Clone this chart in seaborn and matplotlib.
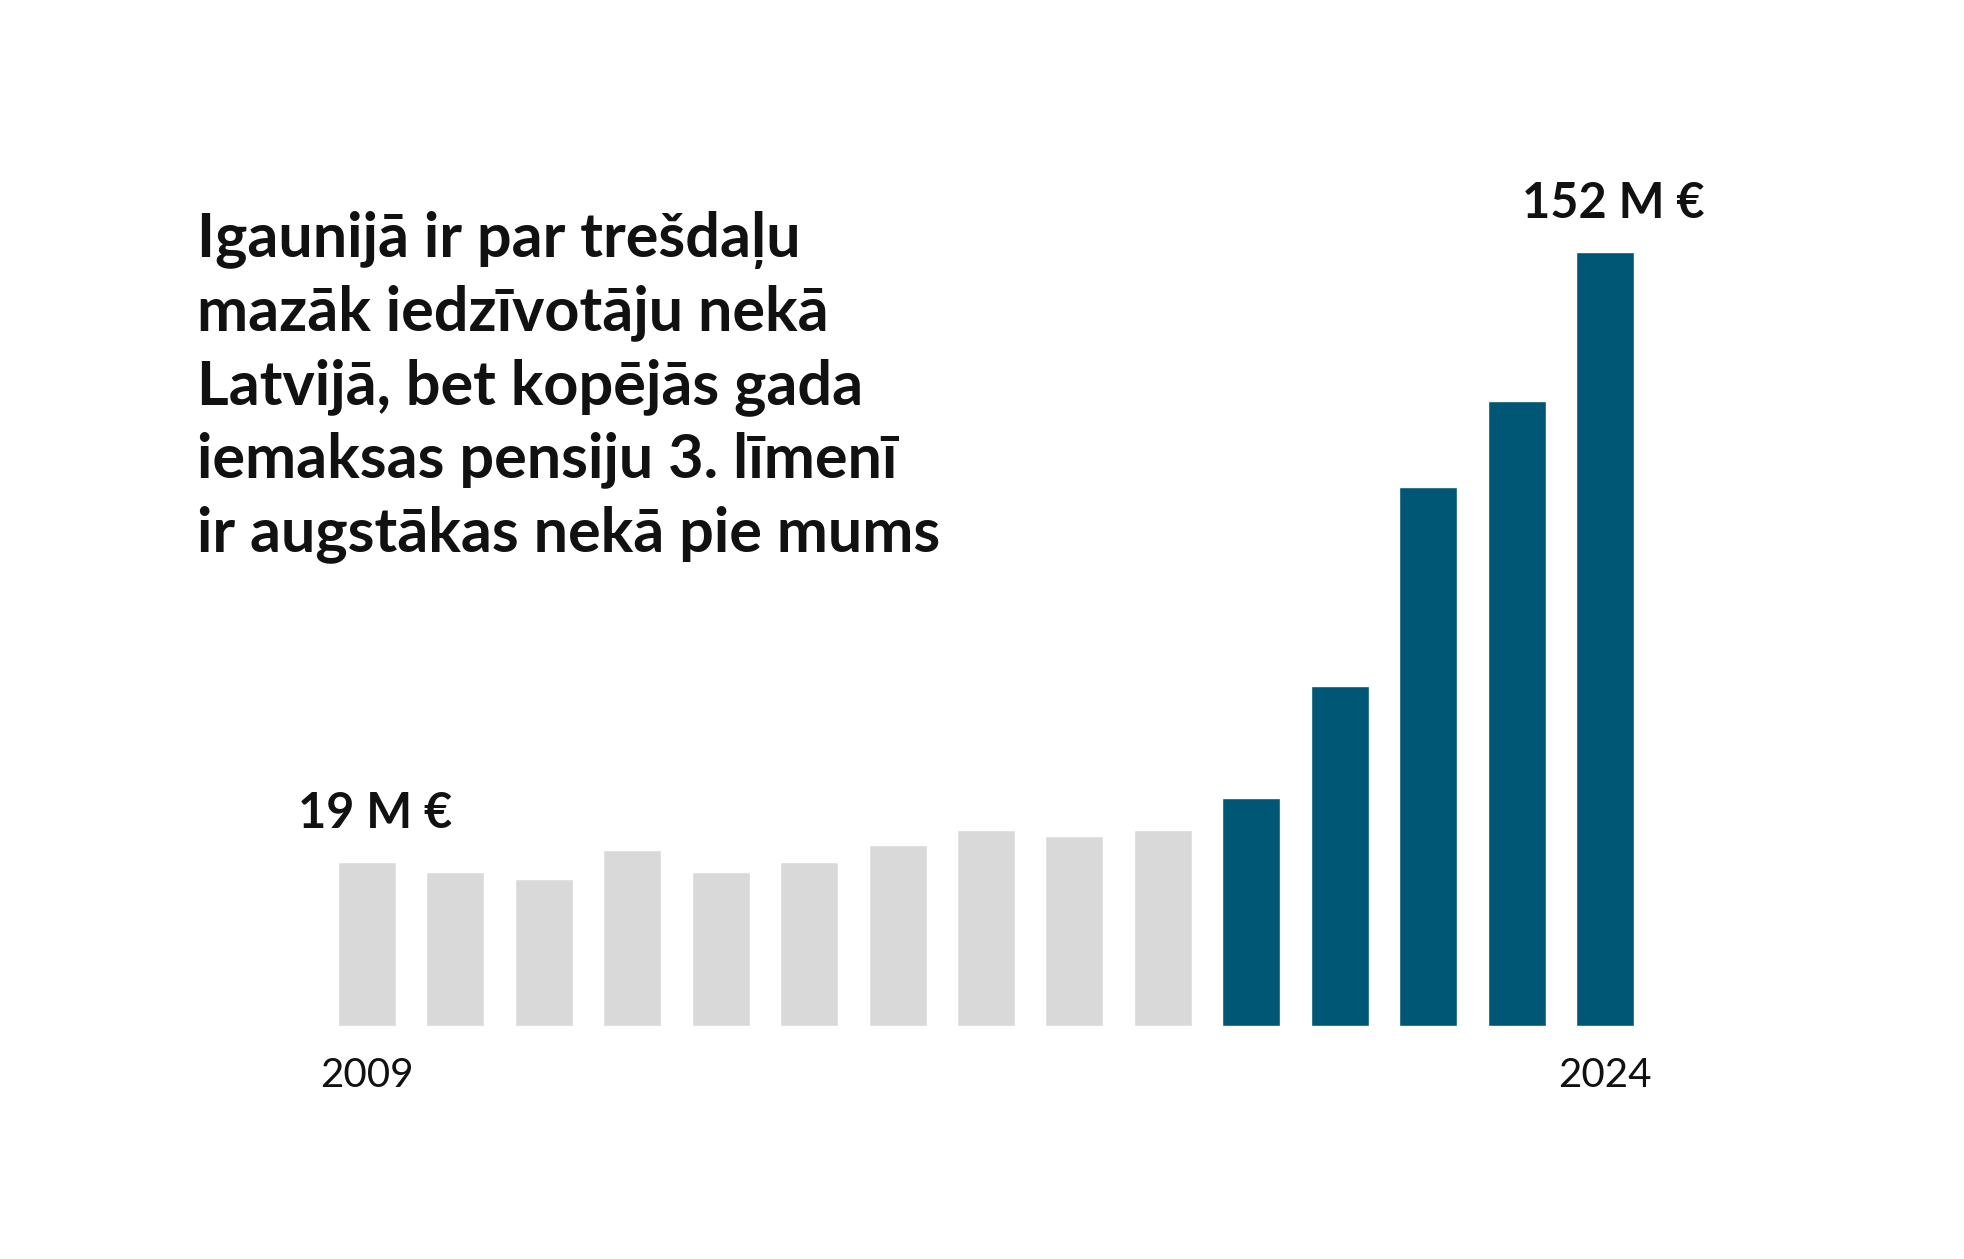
import pandas as pd
import matplotlib
matplotlib.use("Agg")
import matplotlib.pyplot as plt
import seaborn as sns

# Bar values (M EUR); first and last match the printed labels
values = [19.0, 16.7, 15.3, 21.5, 16.7, 19.0, 22.7, 26.0, 24.7, 26.0,
          33.0, 57.4, 100.8, 119.5, 152.0]
groups = ["past"] * 10 + ["recent"] * 5
tick_labels = {0: "2009", 14: "2024"}
value_labels = {0: "19 M €", 14: "152 M €"}
title_lines = [
    "Igaunijā ir par trešdaļu",
    "mazāk iedzīvotāju nekā",
    "Latvijā, bet kopējās gada",
    "iemaksas pensiju 3. līmenī",
    "ir augstākas nekā pie mums",
]

# the original chart's baseline sits below zero
axis_floor = -16.8

palette = {"past": "#d9d9d9", "recent": "#005675"}

df = pd.DataFrame({"pos": range(len(values)), "value": values, "group": groups})
df["height"] = df["value"] - axis_floor

sns.set_theme(style="white")
plt.rcParams["font.family"] = ["Lato", "DejaVu Sans"]

W, H = 1964, 1259
fig = plt.figure(figsize=(W / 100, H / 100), dpi=100)
fig.patch.set_facecolor("white")

# axes placed in pixel terms: bar centres 367..1605, baseline at y=1026, top bar at y=252
step = (1605 - 367) / 14
left = 367 - step / 2
ax = fig.add_axes([left / W, (H - 1026) / H, (step * 15) / W, (1026 - 252) / H])

sns.barplot(data=df, x="pos", y="height", hue="group", palette=palette,
            dodge=False, width=0.656, legend=False, saturation=1, ax=ax)

ax.set_xlim(-0.5, 14.5)
ax.set_ylim(0, values[-1] - axis_floor)
ax.set_axis_off()

# year labels under first and last bar
for i, lab in tick_labels.items():
    ax.annotate(lab, (i, 0), xytext=(0, -61), textcoords="offset pixels",
                ha="center", va="baseline", fontsize=29, color="#111111")

# value labels over first and last bar
for i, lab in value_labels.items():
    ax.annotate(lab, (i, values[i] - axis_floor), xytext=(8, 34),
                textcoords="offset pixels", ha="center", va="baseline",
                fontsize=35, fontweight="bold", color="#111111")

# headline, one line at a time
for k, line in enumerate(title_lines):
    y = 257 + k * 73.5
    fig.text(197 / W, (H - y) / H, line, ha="left", va="baseline",
             fontsize=44, fontweight="bold", color="#111111")

fig.savefig("out.png", dpi=100, facecolor="white")
